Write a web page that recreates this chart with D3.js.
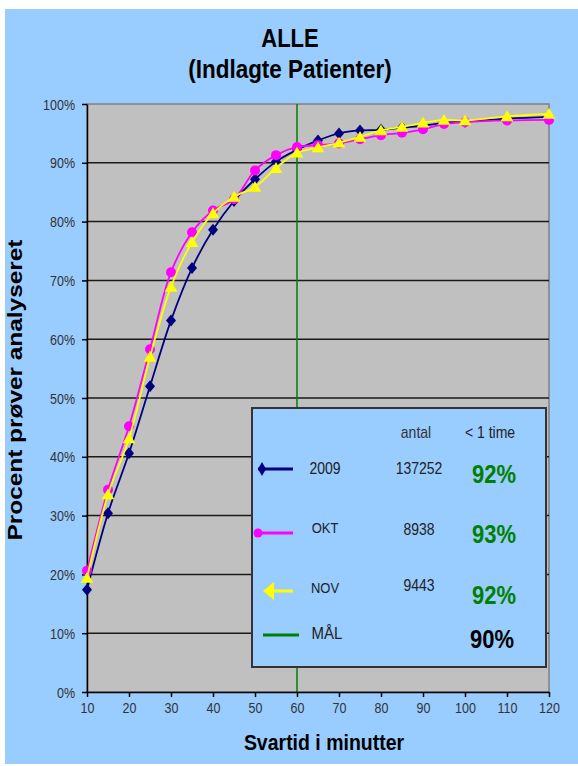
<!DOCTYPE html>
<html>
<head>
<meta charset="utf-8">
<script src="https://cdn.jsdelivr.net/npm/d3@7"></script>
<style>
  html, body { margin: 0; padding: 0; background: #ffffff; }
  svg { display: block; font-family: "Liberation Sans", Arial, sans-serif; }
</style>
</head>
<body>
<svg id="chart" width="578" height="766"></svg>
<script>
// Response times (minutes) and cumulative share of samples analysed (%)
const minutes = [10, 15, 20, 25, 30, 35, 40, 45, 50, 55, 60, 65, 70, 75, 80, 85, 90, 95, 100, 110, 120];
const values2009 = [17.4, 30.4, 40.6, 52.0, 63.2, 72.1, 78.6, 83.5, 87.2, 90.2, 92.2, 93.8, 95.0, 95.5, 95.6, 96.0, 96.3, 96.8, 97.0, 97.5, 97.8];
const valuesOkt = [20.6, 34.4, 45.2, 58.3, 71.4, 78.2, 81.9, 83.8, 88.7, 91.3, 92.7, 93.0, 93.3, 94.0, 94.7, 95.1, 95.7, 96.6, 96.9, 97.2, 97.3];
const valuesNov = [19.4, 33.6, 43.1, 57.0, 68.9, 76.5, 81.4, 84.2, 85.9, 89.1, 91.7, 92.6, 93.4, 94.4, 95.5, 96.1, 96.8, 97.3, 97.2, 97.9, 98.3];

const seriesNames = ["2009", "OKT", "NOV"];
const seriesCounts = ["137252", "8938", "9443"];
const seriesWithinHour = ["92%", "93%", "92%"];
const goalMinutes = 60;
const goalLabel = "MÅL";
const goalValue = "90%";

const xTicks = [10, 20, 30, 40, 50, 60, 70, 80, 90, 100, 110, 120];
const yTicks = [0, 10, 20, 30, 40, 50, 60, 70, 80, 90, 100];

const colors = { y2009: "#000080", okt: "#FF00FF", nov: "#FFFF00", goal: "#008000" };

const svg = d3.select("#chart");
const tall = 1.15; // text is drawn slightly taller than wide

// background panel
svg.append("rect").attr("x", 5).attr("y", 9).attr("width", 573).attr("height", 755).attr("fill", "#99CCFF");

const plotLeft = 87, plotRight = 549, plotTop = 104, plotBottom = 692;
const x = d3.scaleLinear().domain([10, 120]).range([plotLeft, plotRight]);
const y = d3.scaleLinear().domain([0, 100]).range([plotBottom, plotTop]);

function label(txt, px, py, opts) {
  const sx = opts.rotate ? 1 : 1;
  const sy = opts.stretch || 1;
  return svg.append("text")
    .attr("transform", `translate(${px},${py}) scale(${sx},${sy})${opts.rotate ? " rotate(" + opts.rotate + ")" : ""}`)
    .attr("text-anchor", opts.anchor || "middle")
    .attr("font-size", opts.size)
    .attr("font-weight", opts.weight || "normal")
    .attr("fill", opts.color || "#000")
    .text(txt);
}

// titles
label("ALLE", 290, 47, { size: 22, weight: "bold", stretch: tall });
label("(Indlagte Patienter)", 290, 78, { size: 22.5, weight: "bold", stretch: tall });

// plot area
svg.append("rect").attr("x", plotLeft).attr("y", plotTop).attr("width", plotRight - plotLeft).attr("height", plotBottom - plotTop)
  .attr("fill", "#C0C0C0").attr("stroke", "#808080").attr("stroke-width", 1.5);

// horizontal gridlines
svg.append("g").selectAll("line").data(yTicks.filter(d => d > 0 && d < 100)).join("line")
  .attr("x1", plotLeft).attr("x2", plotRight).attr("y1", d => y(d)).attr("y2", d => y(d))
  .attr("stroke", "#1a1a1a").attr("stroke-width", 1.5);

// goal line at 60 minutes
svg.append("line").attr("x1", x(goalMinutes)).attr("x2", x(goalMinutes)).attr("y1", plotTop).attr("y2", plotBottom)
  .attr("stroke", colors.goal).attr("stroke-width", 1.5);

// axes
const yAxis = svg.append("g").attr("transform", `translate(${plotLeft},0)`)
  .call(d3.axisLeft(y).tickValues(yTicks).tickFormat(d => d + "%").tickSize(5).tickSizeOuter(0));
const xAxis = svg.append("g").attr("transform", `translate(0,${plotBottom})`)
  .call(d3.axisBottom(x).tickValues(xTicks).tickSize(5).tickSizeOuter(0));
[yAxis, xAxis].forEach(g => {
  g.selectAll("path, line").attr("stroke", "#000").attr("stroke-width", 1.5);
  g.selectAll("text").attr("font-family", "Liberation Sans, Arial, sans-serif").attr("fill", "#333").attr("font-size", 12.5);
});
yAxis.selectAll("text").attr("x", -12).attr("y", 0).attr("dy", "0.36em").attr("transform", `scale(1,${tall})`);
xAxis.selectAll("text").attr("y", 0).attr("dy", "1.45em").attr("transform", `scale(1,${tall})`);

label("Procent prøver analyseret", 22, 390, { size: 20, weight: "bold", rotate: -90, stretch: 1.22 });
label("Svartid i minutter", 324, 750, { size: 19.5, weight: "bold", stretch: tall });

// series
const curve = d3.curveCatmullRom.alpha(0.5);
const lineGen = vals => d3.line().curve(curve).x((d, i) => x(minutes[i])).y(d => y(d))(vals);

function diamond(g, cx, cy, w, h, fill) {
  g.append("path").attr("d", `M${cx},${cy - h}L${cx + w},${cy}L${cx},${cy + h}L${cx - w},${cy}Z`).attr("fill", fill);
}
function triangle(g, cx, cy, s, fill) {
  g.append("path").attr("d", `M${cx},${cy - s}L${cx + s * 1.05},${cy + s * 0.8}L${cx - s * 1.05},${cy + s * 0.8}Z`).attr("fill", fill);
}

const g2009 = svg.append("g");
g2009.append("path").attr("d", lineGen(values2009)).attr("fill", "none").attr("stroke", colors.y2009).attr("stroke-width", 1.8);
values2009.forEach((v, i) => diamond(g2009, x(minutes[i]), y(v), 5, 6, colors.y2009));

const gOkt = svg.append("g");
gOkt.append("path").attr("d", lineGen(valuesOkt)).attr("fill", "none").attr("stroke", colors.okt).attr("stroke-width", 1.8);
gOkt.selectAll("circle").data(valuesOkt).join("circle")
  .attr("cx", (d, i) => x(minutes[i])).attr("cy", d => y(d)).attr("r", 5).attr("fill", colors.okt);

const gNov = svg.append("g");
gNov.append("path").attr("d", lineGen(valuesNov)).attr("fill", "none").attr("stroke", colors.nov).attr("stroke-width", 1.8);
valuesNov.forEach((v, i) => triangle(gNov, x(minutes[i]), y(v), 6, colors.nov));

// legend table
svg.append("rect").attr("x", 252).attr("y", 408).attr("width", 294).attr("height", 259)
  .attr("fill", "#99CCFF").attr("stroke", "#333").attr("stroke-width", 2);
const lg = svg.append("g");

label("antal", 416, 438, { size: 14, color: "#333", stretch: tall });
label("< 1 time", 490, 438, { size: 14, color: "#222", stretch: tall });

const rowY = [469, 533, 591];
const nameY = [474, 533, 593];
const countY = [474, 535, 591];
const pctY = [483, 543, 604];
const lineColors = [colors.y2009, colors.okt, colors.nov];
rowY.forEach((ry, i) => {
  lg.append("line").attr("x1", i === 2 ? 268 : 258).attr("x2", 293).attr("y1", ry).attr("y2", ry)
    .attr("stroke", lineColors[i]).attr("stroke-width", 3);
  label(seriesNames[i], 325, nameY[i], { size: i === 0 ? 14 : 13, color: "#222", stretch: tall });
  label(seriesCounts[i], 419, countY[i], { size: 14, color: "#222", stretch: tall });
  label(seriesWithinHour[i], 494, pctY[i], { size: 22, weight: "bold", color: colors.goal, stretch: tall });
});
diamond(lg, 262, rowY[0], 4, 7, colors.y2009);
lg.append("circle").attr("cx", 258).attr("cy", rowY[1]).attr("r", 4.5).attr("fill", colors.okt);
lg.append("path").attr("d", `M263,${rowY[2]}L274,${rowY[2] - 9}L274,${rowY[2] + 9}Z`).attr("fill", colors.nov);

lg.append("line").attr("x1", 263).attr("x2", 299).attr("y1", 635).attr("y2", 635)
  .attr("stroke", colors.goal).attr("stroke-width", 3);
label(goalLabel, 327, 639, { size: 15, color: "#222", stretch: tall });
label(goalValue, 492, 648, { size: 22, weight: "bold", color: "#000", stretch: tall });
</script>
</body>
</html>
